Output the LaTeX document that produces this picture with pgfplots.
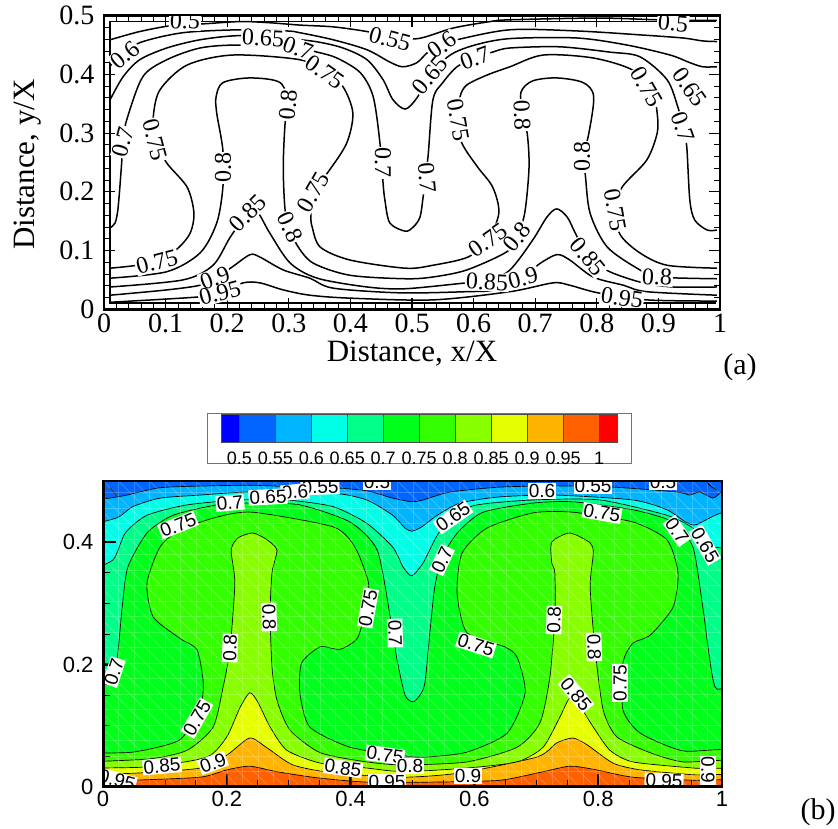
\documentclass[border=0pt]{standalone}
\usepackage{fontspec}
\setmainfont{Liberation Serif}
\setsansfont{Liberation Sans}
\usepackage{pgfplots}
\pgfplotsset{compat=1.18}
\definecolor{c00}{HTML}{0000FF}
\definecolor{c50}{HTML}{0066FF}
\definecolor{c55}{HTML}{00B4FF}
\definecolor{c60}{HTML}{00FFE6}
\definecolor{c65}{HTML}{00FF88}
\definecolor{c70}{HTML}{00FF1A}
\definecolor{c75}{HTML}{33FF00}
\definecolor{c80}{HTML}{88FF00}
\definecolor{c85}{HTML}{E6FF00}
\definecolor{c90}{HTML}{FFB400}
\definecolor{c95}{HTML}{FF6000}
\definecolor{c100}{HTML}{FF0000}
\newcommand{\fs}[1]{\fontsize{#1}{#1}\selectfont}
\newcommand{\lbbox}[4]{\node[rotate=#3,fill=white,inner sep=1pt,font=\fs{24}] at (#1,#2) {\phantom{#4}};}
\newcommand{\lbtext}[4]{\node[rotate=#3,inner sep=1pt,font=\fs{24}] at (#1,#2) {#4};}
\newcommand{\lbb}[4]{\node[rotate=#3,fill=white,inner sep=1pt,font=\sffamily\fs{19}] at (#1,#2) {#4};}
\newcommand{\labelsA}{%
\lb{185}{21}{-3}{0.5}\lb{263}{38}{-3}{0.65}\lb{125}{55}{40}{0.6}\lb{298}{48}{-20}{0.7}%
\lb{325}{72}{-35}{0.75}\lb{390}{39}{-15}{0.55}\lb{442}{45}{35}{0.6}\lb{430}{75}{50}{0.65}%
\lb{475}{58}{20}{0.7}\lb{427}{178}{-85}{0.7}\lb{383}{163}{-90}{0.7}\lb{123}{142}{75}{0.7}%
\lb{155}{140}{-75}{0.75}\lb{223}{168}{90}{0.8}\lb{288}{105}{85}{0.8}\lb{290}{227}{-65}{0.8}%
\lb{313}{192}{60}{0.75}\lb{248}{213}{45}{0.85}\lb{157}{262}{15}{0.75}\lb{215}{278}{20}{0.9}%
\lb{220}{293}{15}{0.95}\lb{458}{120}{-80}{0.75}\lb{522}{115}{-88}{0.8}\lb{582}{157}{90}{0.8}%
\lb{488}{240}{35}{0.75}\lb{517}{237}{50}{0.8}\lb{615}{210}{-80}{0.75}\lb{647}{87}{-60}{0.75}%
\lb{690}{87}{-55}{0.65}\lb{683}{127}{-70}{0.7}\lb{588}{257}{-50}{0.85}\lb{657}{277}{-3}{0.8}%
\lb{622}{298}{-8}{0.95}\lb{487}{282}{-3}{0.85}\lb{523}{278}{15}{0.9}\lb{673}{23}{-5}{0.5}%
}
\begin{document}
\begin{tikzpicture}
\path[use as bounding box,fill=white] (0,0) rectangle (838pt,829pt);

% ---------- panel (a) ----------
\begin{axis}[
  name=a, scale only axis, anchor=south west, at={(104pt,519.7pt)},
  width=616pt, height=293.6pt,
  xmin=0, xmax=1, ymin=0, ymax=0.5,
  xtick={0,0.1,...,1}, ytick={0,0.1,...,0.5},
  xticklabels={0,0.1,0.2,0.3,0.4,0.5,0.6,0.7,0.8,0.9,1},
  yticklabels={0,0.1,0.2,0.3,0.4,0.5},
  minor tick num=4, tick align=inside,
  major tick length=11pt, minor tick length=6pt,
  major tick style={line width=1.2pt,black}, minor tick style={line width=0.8pt,black},
  axis line style={line width=2.5pt},
  tick label style={font=\fs{28}},
  xticklabel style={yshift=-1pt},
  yticklabel style={xshift=-6pt},
  xlabel={Distance, x/X}, ylabel={Distance, y/X},
  xlabel style={font=\fs{31},at={(axis description cs:0.5,0)},anchor=center,yshift=-44pt},
  ylabel style={font=\fs{31},at={(axis description cs:0,0.493)},anchor=center,rotate=0,yshift=76pt},
  every axis plot/.append style={black,line width=1.5pt},
]
\addplot[line width=1.2pt] coordinates {(.993,.0107)(.0097,.0107)(.0097,.4895)(.993,.4895)};
\addplot[smooth,tension=.5] coordinates {(.010,.459)(.054,.472)(.096,.481)(.131,.486)(.159,.486)(.221,.490)(.269,.488)(.318,.484)(.372,.481)(.427,.473)(.464,.464)(.510,.461)(.567,.479)(.627,.490)(.659,.493)(.802,.496)(.898,.493)(.951,.492)(.995,.492)};
\addplot[smooth,tension=.5] coordinates {(.010,.415)(.034,.433)(.058,.454)(.128,.471)(.221,.476)(.297,.474)(.318,.471)(.372,.459)(.427,.442)(.464,.421)(.485,.413)(.508,.420)(.526,.438)(.549,.450)(.573,.459)(.659,.476)(.768,.474)(.875,.467)(.940,.462)(.972,.457)(.995,.456)};
\addplot[smooth,tension=.5] coordinates {(.010,.357)(.031,.396)(.058,.425)(.102,.445)(.156,.459)(.218,.466)(.286,.462)(.343,.456)(.388,.445)(.427,.425)(.453,.391)(.469,.357)(.489,.341)(.508,.360)(.529,.399)(.562,.433)(.602,.450)(.659,.461)(.768,.462)(.849,.450)(.919,.433)(.951,.420)(.972,.413)(.995,.413)};
\addplot[smooth,tension=.5] coordinates {(.010,.139)(.018,.147)(.023,.174)(.029,.254)(.031,.288)(.037,.323)(.063,.396)(.102,.425)(.156,.445)(.218,.450)(.313,.445)(.346,.438)(.378,.428)(.416,.403)(.437,.362)(.448,.283)(.453,.215)(.456,.186)(.464,.147)(.489,.133)(.502,.140)(.513,.157)(.518,.191)(.526,.260)(.534,.357)(.550,.386)(.573,.413)(.602,.428)(.631,.438)(.659,.445)(.740,.447)(.821,.438)(.870,.430)(.914,.391)(.932,.343)(.940,.311)(.946,.277)(.951,.186)(.959,.152)(.979,.135)(.995,.135)};
\addplot[smooth,tension=.5] coordinates {(.010,.070)(.047,.074)(.086,.081)(.120,.104)(.140,.130)(.146,.164)(.135,.208)(.102,.249)(.083,.288)(.080,.328)(.091,.374)(.135,.416)(.209,.433)(.318,.425)(.359,.404)(.388,.379)(.404,.334)(.394,.283)(.364,.234)(.339,.200)(.336,.157)(.338,.140)(.351,.106)(.399,.084)(.489,.070)(.534,.075)(.591,.089)(.623,.118)(.641,.164)(.631,.208)(.606,.243)(.581,.283)(.575,.323)(.578,.362)(.589,.382)(.622,.399)(.659,.413)(.713,.433)(.794,.428)(.859,.407)(.890,.370)(.898,.334)(.898,.300)(.881,.254)(.841,.208)(.830,.169)(.838,.127)(.870,.096)(.914,.075)(.995,.070)};
\addplot[smooth,tension=.5] coordinates {(.010,.053)(.102,.064)(.156,.096)(.183,.147)(.193,.208)(.193,.271)(.183,.334)(.182,.362)(.193,.386)(.237,.394)(.286,.386)(.299,.348)(.294,.317)(.291,.242)(.294,.169)(.302,.140)(.313,.110)(.339,.079)(.399,.058)(.489,.052)(.534,.055)(.589,.067)(.654,.098)(.670,.123)(.683,.164)(.690,.242)(.687,.300)(.679,.331)(.677,.370)(.696,.389)(.735,.394)(.778,.386)(.795,.362)(.786,.294)(.776,.260)(.781,.232)(.789,.164)(.817,.106)(.870,.067)(.898,.055)(.995,.052)};
\addplot[smooth,tension=.5] coordinates {(.010,.038)(.128,.050)(.177,.075)(.205,.123)(.234,.164)(.250,.164)(.269,.130)(.302,.079)(.346,.053)(.427,.038)(.489,.035)(.589,.045)(.622,.047)(.659,.067)(.696,.118)(.719,.157)(.735,.171)(.752,.157)(.765,.130)(.786,.089)(.821,.064)(.875,.045)(.924,.038)(.995,.038)};
\addplot[smooth,tension=.5] coordinates {(.010,.024)(.102,.033)(.156,.041)(.180,.053)(.208,.072)(.237,.093)(.253,.089)(.291,.067)(.334,.053)(.372,.036)(.481,.028)(.589,.030)(.635,.033)(.680,.053)(.705,.076)(.735,.093)(.756,.084)(.794,.055)(.843,.041)(.881,.030)(.995,.024)};
\addplot[smooth,tension=.5] coordinates {(.010,.012)(.153,.021)(.188,.028)(.226,.045)(.253,.045)(.291,.033)(.334,.024)(.399,.019)(.534,.016)(.659,.030)(.729,.045)(.756,.041)(.802,.028)(.881,.016)(.995,.014)};
\end{axis}

% ---------- legend box and colour bar ----------
\begin{scope}[x=1pt,y=-1pt,shift={(0,829pt)}]
\draw[black!55,line width=1pt,fill=white] (207,414) rectangle (631,464);
\end{scope}
\begin{axis}[
  scale only axis, anchor=south west, at={(221pt,387pt)},
  width=396pt, height=28pt,
  xmin=0.4745, xmax=1.025, ymin=0, ymax=1,
  axis line style={draw=none}, ytick=\empty,
  xtick={0.5,0.55,0.6,0.65,0.7,0.75,0.8,0.85,0.9,0.95,1},
  xticklabels={0.5,0.55,0.6,0.65,0.7,0.75,0.8,0.85,0.9,0.95,1},
  xtick style={draw=none},
  xticklabel style={font=\sffamily\fs{18},anchor=center,yshift=-16pt},
  every axis plot/.append style={draw=black!70,line width=0.8pt},
  clip=false,
]
\addplot[fill=c00] coordinates {(.4745,0)(.5,0)(.5,1)(.4745,1)} --cycle;
\addplot[fill=c50] coordinates {(.5,0)(.55,0)(.55,1)(.5,1)} --cycle;
\addplot[fill=c55] coordinates {(.55,0)(.6,0)(.6,1)(.55,1)} --cycle;
\addplot[fill=c60] coordinates {(.6,0)(.65,0)(.65,1)(.6,1)} --cycle;
\addplot[fill=c65] coordinates {(.65,0)(.7,0)(.7,1)(.65,1)} --cycle;
\addplot[fill=c70] coordinates {(.7,0)(.75,0)(.75,1)(.7,1)} --cycle;
\addplot[fill=c75] coordinates {(.75,0)(.8,0)(.8,1)(.75,1)} --cycle;
\addplot[fill=c80] coordinates {(.8,0)(.85,0)(.85,1)(.8,1)} --cycle;
\addplot[fill=c85] coordinates {(.85,0)(.9,0)(.9,1)(.85,1)} --cycle;
\addplot[fill=c90] coordinates {(.9,0)(.95,0)(.95,1)(.9,1)} --cycle;
\addplot[fill=c95] coordinates {(.95,0)(1,0)(1,1)(.95,1)} --cycle;
\addplot[fill=c100] coordinates {(1,0)(1.025,0)(1.025,1)(1,1)} --cycle;
\end{axis}

% ---------- panel (b) ----------
\begin{axis}[
  scale only axis, anchor=south west, at={(103pt,42pt)},
  width=619pt, height=306pt,
  xmin=0, xmax=1, ymin=0, ymax=0.5,
  xtick={0,0.2,0.4,0.6,0.8,1}, ytick={0,0.2,0.4},
  xticklabels={0,0.2,0.4,0.6,0.8,1}, yticklabels={0,0.2,0.4},
  minor tick num=3, tick align=inside, xtick pos=bottom, ytick pos=left,
  major tick length=13pt, minor tick length=7pt,
  major tick style={line width=2.5pt,black}, minor tick style={line width=0.8pt,black},
  axis line style={line width=1.2pt},
  tick label style={font=\sffamily\fs{22}},
  yticklabel style={xshift=-6pt},
  xticklabel style={yshift=-1pt},
  axis on top,
  every axis plot/.append style={draw=black,line width=0.7pt,smooth,tension=.4},
]
\addplot[fill=c50,draw=none,sharp plot] coordinates {(-.03,-.05)(1.03,-.05)(1.03,.55)(-.03,.55)};
\addplot[fill=c55] coordinates {(-.03,.466)(.023,.474)(.039,.477)(.092,.489)(.168,.492)(.242,.493)(.318,.490)(.372,.489)(.426,.484)(.468,.472)(.499,.466)(.517,.469)(.561,.482)(.641,.490)(.730,.492)(.824,.490)(.927,.482)(.948,.477)(.964,.482)(.985,.472)(1.03,.464)(1.03,-.05)(-.03,-.05)};
\addplot[fill=c60] coordinates {(-.03,.426)(.023,.440)(.048,.458)(.092,.472)(.157,.477)(.237,.482)(.372,.480)(.426,.469)(.468,.444)(.488,.423)(.499,.418)(.515,.425)(.540,.444)(.577,.464)(.641,.474)(.730,.477)(.856,.469)(.911,.453)(.953,.428)(1.03,.426)(1.03,-.05)(-.03,-.05)};
\addplot[fill=c65] coordinates {(-.03,.351)(.016,.371)(.036,.415)(.071,.444)(.136,.461)(.221,.469)(.297,.469)(.372,.458)(.426,.431)(.468,.392)(.485,.359)(.499,.345)(.517,.366)(.536,.404)(.549,.423)(.596,.459)(.695,.469)(.803,.469)(.911,.444)(.953,.423)(.973,.395)(1.03,.353)(1.03,-.05)(-.03,-.05)};
\addplot[fill=c70] coordinates {(-.03,.163)(.011,.170)(.023,.212)(.031,.294)(.040,.359)(.071,.415)(.113,.444)(.184,.461)(.242,.464)(.318,.461)(.399,.433)(.443,.387)(.464,.278)(.475,.208)(.488,.150)(.501,.139)(.512,.150)(.520,.170)(.528,.252)(.536,.327)(.548,.376)(.574,.417)(.614,.449)(.695,.464)(.759,.466)(.856,.453)(.921,.433)(.953,.392)(.969,.294)(.989,.163)(1.03,.163)(1.03,-.05)(-.03,-.05)};
\addplot[fill=c75] coordinates {(-.03,.056)(.048,.057)(.124,.077)(.157,.131)(.162,.170)(.152,.224)(.124,.243)(.081,.278)(.071,.333)(.092,.392)(.124,.420)(.184,.441)(.242,.449)(.372,.425)(.407,.392)(.428,.338)(.428,.310)(.412,.245)(.383,.225)(.351,.229)(.321,.203)(.318,.154)(.334,.098)(.399,.065)(.485,.051)(.523,.049)(.588,.057)(.653,.088)(.682,.154)(.669,.212)(.649,.229)(.588,.252)(.572,.317)(.580,.382)(.620,.423)(.695,.448)(.759,.449)(.856,.433)(.911,.404)(.929,.350)(.921,.294)(.884,.248)(.856,.235)(.840,.203)(.840,.126)(.868,.088)(.937,.059)(1.03,.056)(1.03,-.05)(-.03,-.05)};
\addplot[fill=c80] coordinates {(-.03,.041)(.076,.046)(.136,.060)(.178,.098)(.194,.163)(.205,.224)(.213,.333)(.207,.387)(.218,.407)(.242,.415)(.265,.404)(.281,.387)(.273,.350)(.270,.284)(.273,.196)(.281,.142)(.302,.093)(.351,.056)(.426,.041)(.485,.036)(.588,.041)(.669,.065)(.706,.105)(.722,.180)(.730,.278)(.730,.350)(.725,.366)(.725,.400)(.754,.415)(.787,.399)(.792,.382)(.787,.327)(.795,.224)(.808,.126)(.830,.082)(.884,.056)(.937,.041)(1.03,.039)(1.03,-.05)(-.03,-.05)};
\addplot[fill=c85] coordinates {(-.03,.031)(.076,.033)(.168,.049)(.200,.082)(.221,.129)(.237,.154)(.250,.139)(.270,.098)(.297,.060)(.351,.039)(.426,.031)(.485,.025)(.588,.031)(.669,.041)(.711,.065)(.738,.114)(.754,.145)(.771,.131)(.792,.098)(.819,.060)(.856,.041)(.953,.031)(1.03,.025)(1.03,-.05)(-.03,-.05)};
\addplot[fill=c90] coordinates {(-.03,.020)(.060,.023)(.157,.031)(.200,.052)(.237,.080)(.265,.064)(.307,.036)(.372,.023)(.485,.016)(.577,.023)(.701,.049)(.733,.072)(.759,.080)(.782,.069)(.824,.039)(.868,.028)(.953,.020)(1.03,.016)(1.03,-.05)(-.03,-.05)};
\addplot[fill=c95] coordinates {(-.03,.008)(.048,.011)(.157,.016)(.200,.028)(.237,.034)(.281,.025)(.346,.015)(.426,.008)(.533,.008)(.641,.011)(.711,.025)(.754,.034)(.792,.029)(.856,.016)(.953,.011)(1.03,.008)(1.03,-.05)(-.03,-.05)};
\addplot[fill=c100,sharp plot] coordinates {(-.01,.006)(.012,.001)(.012,-.01)(-.01,-.01)};
\addplot[fill=c00,sharp plot] coordinates {(.976,.498)(.984,.490)(.992,.485)(.977,.495)};
\addplot[sharp plot] coordinates {(.011,.489)(.023,.476)};
\end{axis}

\begin{scope}[x=1pt,y=-1pt,shift={(0,829pt)}]
% labels of panel (a)
\begin{scope}
\clip (105.3,17) rectangle (718.7,308);
\let\lb\lbbox \labelsA
\let\lb\lbtext \labelsA
\end{scope}
% faint mesh and labels of panel (b)
\begin{scope}
\clip (103,481) rectangle (722,787);
\begin{scope}[white,opacity=.2,line width=.8pt]
\foreach \i in {0,...,40} {\draw (103+15.5*\i,481) -- (103+15.5*\i,787);}
\foreach \i in {0,...,20} {\draw (103,787-15.5*\i) -- (722,787-15.5*\i);}
\foreach \i in {-20,...,40} {\draw (103+15.5*\i,481) -- (103+15.5*\i+306,787);}
\end{scope}
\lbb{320}{487}{2}{0.55}\lbb{295}{492}{5}{0.6}\lbb{268}{497}{3}{0.65}\lbb{230}{503}{5}{0.7}
\lbb{178}{525}{22}{0.75}\lbb{377}{482}{0}{0.5}\lbb{368}{608}{80}{0.75}\lbb{269}{617}{-88}{0.8}
\lbb{395}{633}{-88}{0.7}\lbb{230}{648}{88}{0.8}\lbb{114}{672}{72}{0.7}\lbb{197}{718}{60}{0.75}
\lbb{162}{766}{5}{0.85}\lbb{213}{763}{20}{0.9}\lbb{117}{780}{-15}{0.95}\lbb{385}{755}{-8}{0.75}
\lbb{343}{768}{-8}{0.85}\lbb{387}{782}{0}{0.95}\lbb{410}{766}{0}{0.8}\lbb{468}{776}{0}{0.9}
\lbb{542}{491}{0}{0.6}\lbb{593}{486}{0}{0.55}\lbb{663}{482}{0}{0.5}\lbb{453}{517}{35}{0.65}
\lbb{442}{560}{65}{0.7}\lbb{602}{513}{-10}{0.75}\lbb{677}{531}{-55}{0.7}\lbb{705}{545}{-60}{0.65}
\lbb{476}{645}{-18}{0.75}\lbb{554}{620}{88}{0.8}\lbb{594}{647}{-88}{0.8}\lbb{620}{683}{90}{0.75}
\lbb{576}{694}{-50}{0.85}\lbb{664}{781}{-2}{0.95}\lbb{708}{788}{-90}{0.8}\lbb{708}{770}{-90}{0.9}
\end{scope}
\draw[line width=3pt] (103,481) -- (103,787) -- (722,787);
\draw[line width=1.2pt] (103,481) -- (722,481) -- (722,787);
\node[font=\fs{30}] at (740,367) {(a)};
\node[font=\fs{30}] at (818,812) {(b)};
\end{scope}
\end{tikzpicture}
\end{document}
